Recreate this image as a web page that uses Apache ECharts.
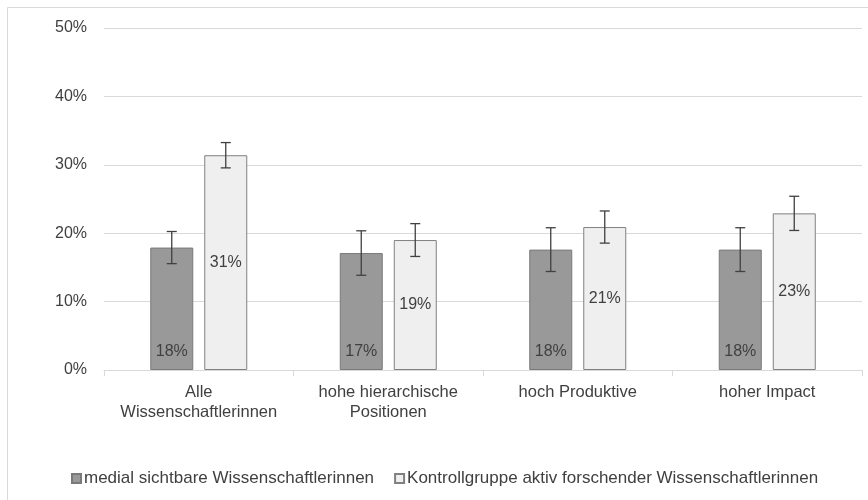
<!DOCTYPE html>
<html>
<head>
<meta charset="utf-8">
<script src="https://cdn.jsdelivr.net/npm/echarts@6/dist/echarts.min.js"></script>
<style>
  html, body { margin: 0; padding: 0; background: #fff; }
  #chart { width: 868px; height: 500px; }
</style>
</head>
<body>
<div id="chart"></div>
<script>
const categories = ['Alle\nWissenschaftlerinnen', 'hohe hierarchische\nPositionen', 'hoch Produktive', 'hoher Impact']
const seriesNames = ['medial sichtbare Wissenschaftlerinnen', 'Kontrollgruppe aktiv forschender Wissenschaftlerinnen']
// values in percent
const medial = [17.9, 17.1, 17.6, 17.6]
const medialErr = [2.35, 3.25, 3.2, 3.2]
const kontroll = [31.4, 19.0, 20.9, 22.9]
const kontrollErr = [1.85, 2.4, 2.35, 2.5]
const yTicks = [0, 10, 20, 30, 40, 50]

const chart = echarts.init(document.getElementById('chart'))

const textColor = '#404040'
const barW = 43
const gapPx = 11

function errorSeries(values, errs, side) {
  return {
    type: 'custom',
    silent: true,
    z: 10,
    data: values.map((v, i) => [i, v, errs[i]]),
    renderItem(params, api) {
      const i = api.value(0)
      const v = api.value(1)
      const e = api.value(2)
      const off = side * (barW + gapPx) / 2
      const top = api.coord([i, v + e])
      const bot = api.coord([i, v - e])
      const x = top[0] + off
      const cap = 5
      const style = { stroke: textColor, lineWidth: 1.3 }
      return {
        type: 'group',
        children: [
          { type: 'line', shape: { x1: x, y1: top[1], x2: x, y2: bot[1] }, style },
          { type: 'line', shape: { x1: x - cap, y1: top[1], x2: x + cap, y2: top[1] }, style },
          { type: 'line', shape: { x1: x - cap, y1: bot[1], x2: x + cap, y2: bot[1] }, style }
        ]
      }
    }
  }
}

chart.setOption({
  animation: false,
  textStyle: { fontFamily: 'Liberation Sans, Arial, sans-serif' },
  graphic: [{
    type: 'rect',
    shape: { x: 7.5, y: 7.5, width: 900, height: 600 },
    style: { fill: 'none', stroke: '#d9d9d9', lineWidth: 1 },
    silent: true
  }],
  grid: { left: 104, right: 6, top: 28, bottom: 130 },
  legend: {
    data: seriesNames,
    top: 465,
    left: 66,
    icon: 'rect',
    itemWidth: 9,
    itemHeight: 9,
    itemGap: 20,
    textStyle: { color: textColor, fontSize: 17, padding: [0, 0, 0, -2] }
  },
  xAxis: {
    type: 'category',
    data: categories,
    axisLine: { lineStyle: { color: '#d9d9d9' } },
    axisTick: { show: true, length: 6, lineStyle: { color: '#d9d9d9' } },
    axisLabel: { interval: 0, color: textColor, fontSize: 16.5, lineHeight: 20, margin: 12 }
  },
  yAxis: {
    type: 'value',
    min: 0,
    max: 50,
    interval: 10,
    axisLine: { show: false },
    axisTick: { show: false },
    splitLine: { lineStyle: { color: '#d9d9d9' } },
    axisLabel: { color: textColor, fontSize: 16, margin: 17, formatter: v => yTicks.includes(v) ? v + '%' : '' }
  },
  series: [
    {
      name: seriesNames[0],
      type: 'bar',
      data: medial,
      barWidth: barW,
      barGap: (gapPx / barW * 100) + '%',
      itemStyle: { color: '#999999', borderColor: '#7a7a7a', borderWidth: 1 },
      label: {
        show: true,
        position: 'insideBottom',
        distance: 10,
        color: textColor,
        fontSize: 16,
        formatter: p => Math.round(p.value) + '%'
      }
    },
    {
      name: seriesNames[1],
      type: 'bar',
      data: kontroll,
      barWidth: barW,
      itemStyle: { color: '#efefef', borderColor: '#808080', borderWidth: 1 },
      label: {
        show: true,
        position: 'inside',
        color: textColor,
        fontSize: 16,
        formatter: p => Math.round(p.value) + '%'
      }
    },
    errorSeries(medial, medialErr, -1),
    errorSeries(kontroll, kontrollErr, 1)
  ]
})
</script>
</body>
</html>
